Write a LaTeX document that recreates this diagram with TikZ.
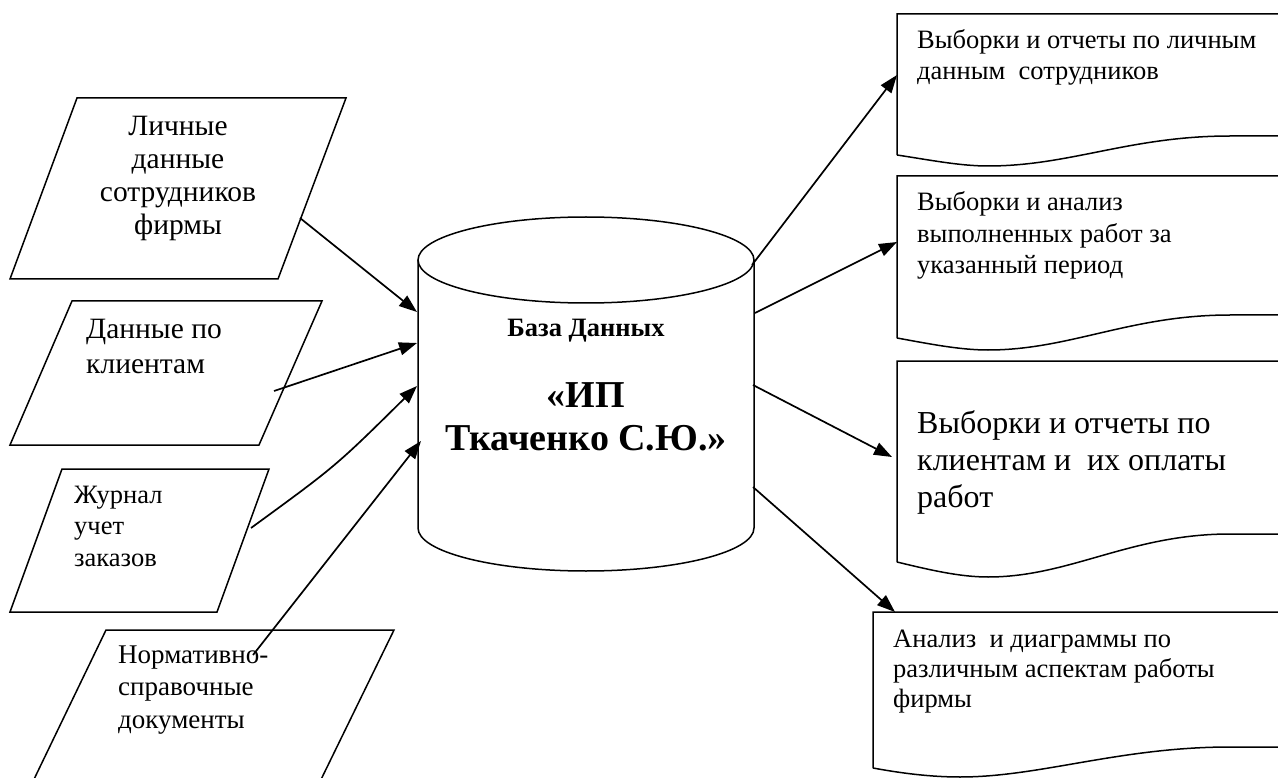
\documentclass[tikz,border=0pt]{standalone}
\usepackage{fontspec}
\setmainfont{Liberation Serif}
\usetikzlibrary{arrows.meta}
\begin{document}
\begin{tikzpicture}[x=1pt,y=-1pt,
  shp/.style={draw, line width=1.5pt, line join=miter},
  conn/.style={draw, line width=1.7pt, -{Triangle[length=18pt,width=13pt]}},
  txt/.style={inner sep=0pt, align=left, anchor=base west},
]
\useasboundingbox (0,0) rectangle (1278,778);
\clip (0,0) rectangle (1278,778);

% ---- input parallelograms
\draw[shp] (77,98) -- (346,98) -- (278,279) -- (10,279) -- cycle;
\draw[shp] (72,301) -- (322,301) -- (259,445) -- (10,445) -- cycle;
\draw[shp] (62,469) -- (269,469) -- (217,612) -- (10,612) -- cycle;
\draw[shp] (106,630) -- (394,630) -- (311,800) -- (24,800) -- cycle;

% (node positions are the baselines of the last lines)
\node[txt, align=center, anchor=base, font=\fontsize{29.5}{33.3}\selectfont] (in1) at (178,235) {Личные\\данные\\сотрудников\\фирмы};
\node[txt, font=\fontsize{29.5}{35}\selectfont] (in2) at (86,373) {Данные по\\клиентам};
\node[txt, font=\fontsize{26.5}{31.5}\selectfont] (in3) at (74,566) {Журнал\\учет\\заказов};
\node[txt, font=\fontsize{27}{32.5}\selectfont] (in4) at (118,728) {Нормативно-\\справочные\\документы};

% ---- database cylinder
\draw[shp] (586,260) ellipse [x radius=168, y radius=43];
\draw[shp] (418,260) -- (418,528) arc [start angle=180, end angle=360, x radius=168, y radius=-43] -- (754,260);
\node[inner sep=0pt, anchor=base, font=\bfseries\fontsize{26.5}{30}\selectfont] (db1) at (586,336) {База Данных};
\node[inner sep=0pt, anchor=base, align=center, font=\bfseries\fontsize{38}{43}\selectfont] (db2) at (586,450) {«ИП\\Ткаченко С.Ю.»};

% ---- output documents
\draw[shp] (897,155) -- (897,14) -- (1300,14) -- (1300,136) -- (1230,136)
  .. controls (1130,136) and (1070,166) .. (988,166)
  .. controls (960,166) and (930,160) .. (897,155);
\draw[shp] (897,338) -- (897,176) -- (1300,176) -- (1300,315) -- (1230,315)
  .. controls (1130,315) and (1070,350) .. (988,350)
  .. controls (960,350) and (930,344) .. (897,338);
\draw[shp] (897,562) -- (897,361) -- (1300,361) -- (1300,534) -- (1230,534)
  .. controls (1130,534) and (1070,577) .. (988,577)
  .. controls (960,577) and (930,570) .. (897,562);
\draw[shp] (873,768) -- (873,612) -- (1300,612) -- (1300,747) -- (1230,747)
  .. controls (1120,747) and (1040,777) .. (960,777)
  .. controls (930,777) and (900,773) .. (873,768);

\node[txt, font=\fontsize{26.5}{31}\selectfont] (out1) at (917,80) {Выборки и отчеты по личным\\данным\ \ сотрудников};
\node[txt, font=\fontsize{26.5}{31.5}\selectfont] (out2) at (917,274) {Выборки и анализ\\выполненных работ за\\указанный период};
\node[txt, font=\fontsize{32}{37}\selectfont] (out3) at (917,507) {Выборки и отчеты по\\клиентам и\ \ их оплаты\\работ};
\node[txt, font=\fontsize{26.5}{30}\selectfont] (out4) at (893,707) {Анализ\ \ и диаграммы по\\различным аспектам работы\\фирмы};

% ---- connector end points
\coordinate (a1s) at (300,218);  \coordinate (a1e) at (417,312);
\coordinate (a2s) at (274,391);  \coordinate (a2e) at (417,343);
\coordinate (a3s) at (251,528);  \coordinate (a3e) at (417,386);
\coordinate (a3c) at (336,466);
\coordinate (a4s) at (253,655);  \coordinate (a4e) at (421,441);
\coordinate (b1s) at (752,265);  \coordinate (b1e) at (897,75);
\coordinate (b2s) at (755,313);  \coordinate (b2e) at (897,242);
\coordinate (b3s) at (753,385);  \coordinate (b3e) at (892,457);
\coordinate (b4s) at (753,487);  \coordinate (b4e) at (895,612);

\draw[conn] (a1s) -- (a1e);
\draw[conn] (a2s) -- (a2e);
\draw[conn] (a3s) .. controls (a3c) .. (a3e);
\draw[conn] (a4s) -- (a4e);
\draw[conn] (b1s) -- (b1e);
\draw[conn] (b2s) -- (b2e);
\draw[conn] (b3s) -- (b3e);
\draw[conn] (b4s) -- (b4e);
\end{tikzpicture}
\end{document}
